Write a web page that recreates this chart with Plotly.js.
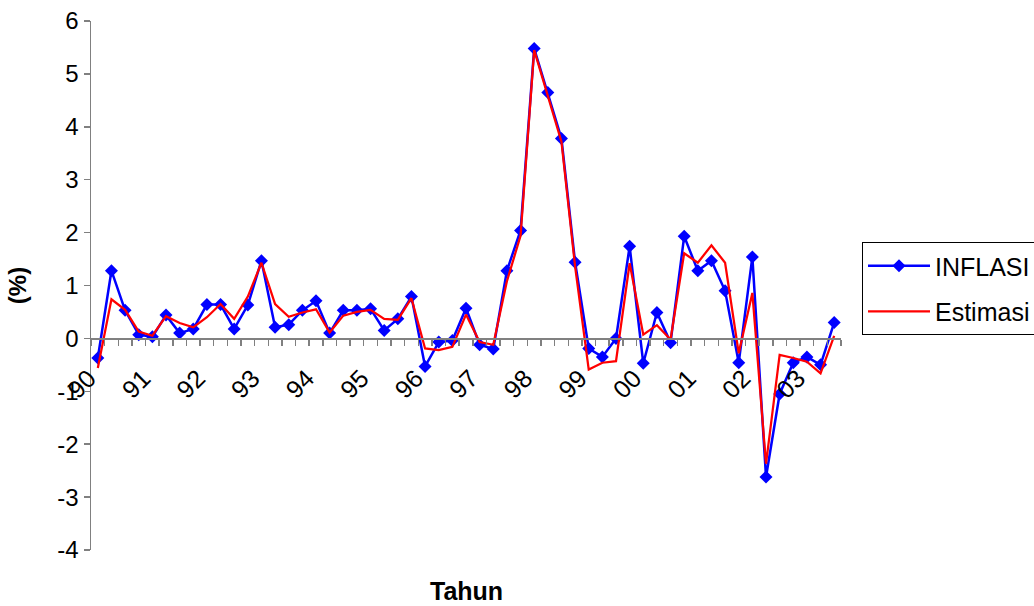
<!DOCTYPE html>
<html>
<head>
<meta charset="utf-8">
<script src="https://cdn.plot.ly/plotly-3.0.1.min.js"></script>
<style>html,body{margin:0;padding:0;background:#fff;}#chart{width:1034px;height:606px;}</style>
</head>
<body>
<div id="chart"></div>
<script>
// Year tick labels (one label every 4 quarters)
const yearLabels = ['90','91','92','93','94','95','96','97','98','99','00','01','02','03'];
const perYear = 4;

// Y-axis tick values and labels
const yTickVals = [-4, -3, -2, -1, 0, 1, 2, 3, 4, 5, 6];
const yTickText = ['-4', '-3', '-2', '-1', '0', '1', '2', '3', '4', '5', '6'];

// Quarterly inflation (%)
const inflasi = [-0.37, 1.28, 0.53, 0.07, 0.03, 0.44, 0.10, 0.18, 0.64, 0.64, 0.18, 0.63, 1.47,
  0.21, 0.26, 0.53, 0.71, 0.10, 0.53, 0.53, 0.56, 0.15, 0.37, 0.79, -0.53,
  -0.07, -0.04, 0.57, -0.12, -0.20, 1.28, 2.04, 5.48, 4.65, 3.78, 1.44, -0.19,
  -0.35, 0.00, 1.74, -0.47, 0.49, -0.08, 1.93, 1.28, 1.47, 0.90, -0.46, 1.54,
  -2.62, -1.05, -0.46, -0.35, -0.50, 0.30];

// Estimated inflation (%)
const estimasi = [-0.56, 0.74, 0.54, 0.13, 0.05, 0.42, 0.29, 0.21, 0.40, 0.65, 0.37, 0.79, 1.43,
  0.65, 0.41, 0.49, 0.55, 0.11, 0.43, 0.50, 0.54, 0.37, 0.35, 0.76, -0.19,
  -0.22, -0.16, 0.45, -0.07, -0.12, 1.08, 1.94, 5.45, 4.58, 3.72, 1.36, -0.59,
  -0.46, -0.43, 1.42, 0.07, 0.25, -0.02, 1.61, 1.43, 1.76, 1.43, -0.28, 0.86,
  -2.37, -0.31, -0.37, -0.44, -0.66, 0.05];

const xIdx = inflasi.map((_, i) => i);
const tickPos = yearLabels.map((_, i) => i * perYear);

const FONT = 'Arial, "Liberation Sans", sans-serif';
const AXC = '#808080';

const traces = [
  {
    x: xIdx, y: inflasi, name: 'INFLASI', type: 'scatter', mode: 'lines+markers',
    line: {color: '#0000FF', width: 2.5},
    marker: {symbol: 'diamond', size: 10, color: '#0000FF'},
    legendgroup: 'a'
  },
  {
    x: xIdx, y: estimasi, name: 'Estimasi', type: 'scatter', mode: 'lines',
    line: {color: '#FF0000', width: 2.25},
    legendgroup: 'b'
  }
];

const layout = {
  width: 1034, height: 606,
  margin: {l: 91, r: 193, t: 21, b: 56, autoexpand: false},
  paper_bgcolor: '#fff', plot_bgcolor: '#fff',
  font: {family: FONT, size: 24, color: '#000'},
  showlegend: true,
  legend: {
    x: 1.028, xanchor: 'left', y: 0.582, yanchor: 'top',
    bordercolor: '#000', borderwidth: 1, bgcolor: '#fff',
    font: {family: FONT, size: 25, color: '#000'},
    tracegroupgap: 10, itemwidth: 62
  },
  xaxis: {
    range: [-0.5, inflasi.length - 0.5],
    anchor: 'free', position: 0.4,
    tickmode: 'array', tickvals: tickPos, ticktext: yearLabels,
    tickangle: -45,
    ticks: 'outside', ticklen: 6, tickcolor: 'rgba(0,0,0,0)',
    ticklabelshift: -9, ticklabelstandoff: 8,
    minor: {tickmode: 'linear', tick0: -0.5, dtick: 1, ticks: 'outside', ticklen: 6, tickcolor: AXC, tickwidth: 1.5, showgrid: false},
    showline: true, linecolor: AXC, linewidth: 1.5,
    showgrid: false, zeroline: false,
    tickfont: {family: FONT, size: 25, color: '#000'},
    fixedrange: true
  },
  yaxis: {
    range: [-4, 6],
    tickmode: 'array', tickvals: yTickVals, ticktext: yTickText,
    ticks: 'outside', ticklen: 6, tickcolor: AXC, tickwidth: 1.5,
    showline: true, linecolor: AXC, linewidth: 1.5,
    showgrid: false, zeroline: false,
    tickfont: {family: FONT, size: 24, color: '#000'},
    title: {text: '(%)', font: {family: FONT, size: 24, color: '#000', weight: 'bold'}, standoff: 24},
    fixedrange: true
  },
  annotations: [{
    text: '<b>Tahun</b>', xref: 'paper', yref: 'paper', x: 0.5, y: -0.077,
    xanchor: 'center', yanchor: 'middle', showarrow: false,
    font: {family: FONT, size: 25, color: '#000'}
  }]
};

Plotly.newPlot('chart', traces, layout, {displayModeBar: false, staticPlot: true});
</script>
</body>
</html>
